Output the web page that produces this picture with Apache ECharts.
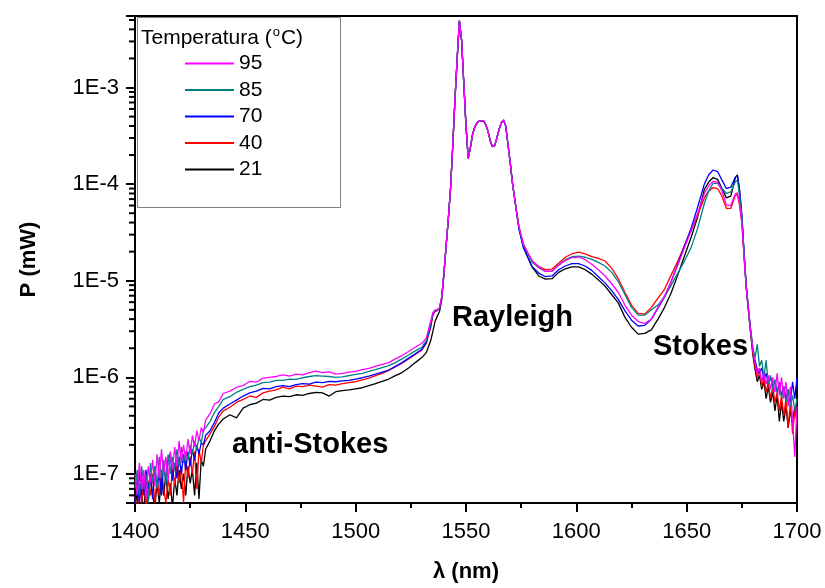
<!DOCTYPE html>
<html><head><meta charset="utf-8">
<script src="https://cdn.jsdelivr.net/npm/echarts@6/dist/echarts.min.js"></script>
<style>html,body{margin:0;padding:0;background:#fff}#c{width:825px;height:588px}</style>
</head><body><div id="c"></div>
<script>
// ---- data (P in mW vs wavelength in nm) ----
const wavelength = [
 1400,1401,1402,1403,1404,1405,1406,1407,1408,1409,1410,1411,1412,1413,1414,1415,1416,1417,1418,1419,1420,1421,1422,1423,1424,1425,1426,1427,1428,1429,1430,1431,1432,
 1434,1436,1438,1440,1443,1446,1449,1452,1455,1458,1461,1464,1467,1470,1473,1476,1479,1482,1485,1488,1491,1494,1497,1500,1503,1506,1509,1512,1515,1518,1521,1524,1527,1530,
 1532,1534,1535,1536,1537,1538,1539,1540,
 1541,1542,1543,1544,1545,1546,1547,1548,1549,1550,1551,1552,1553,1554,1555,1556,1557,1558,1559,1560,1561,1562,1563,1564,1565,1566,1567,1568,1569,1570,1571,1572,1573,
 1574,1576,1578,1580,
 1583,1586,1589,1592,1595,1598,1601,1604,1607,1610,1613,1616,1619,1622,1625,1628,1631,1634,1637,1640,1643,1646,1649,1652,1655,1658,1660,1662,1664,1666,1668,1670,1672,1673,1674,1675,1676,1677,1678,1679,
 1680,1681,1682,1683,1684,1685,1686,1687,1688,1689,1690,1691,1692,1693,1694,1695,1696,1697,1698,1699,1700
];
// Rayleigh peak region 1541-1573 nm, identical for all temperatures
const rayleighPeak = [2.3e-5,4.4e-5,9.0e-5,2.5e-4,7.5e-4,2.0e-3,4.9e-3,3.1e-3,1.1e-3,4.0e-4,1.85e-4,2.4e-4,3.3e-4,3.9e-4,4.3e-4,4.5e-4,4.55e-4,4.5e-4,4.1e-4,3.5e-4,2.8e-4,2.45e-4,2.5e-4,3.0e-4,3.7e-4,4.3e-4,4.6e-4,4.0e-4,2.6e-4,1.7e-4,1.05e-4,7.2e-5,5.0e-5];

const p95 = [
 1.0e-7,6e-8,1.3e-7,7e-8,1.1e-7,5.5e-8,1.2e-7,8e-8,1.4e-7,7.5e-8,1.6e-7,9e-8,1.8e-7,1.0e-7,1.5e-7,8.5e-8,1.7e-7,1.1e-7,1.9e-7,1.2e-7,2.2e-7,1.3e-7,2.0e-7,1.4e-7,2.3e-7,1.6e-7,2.5e-7,1.9e-7,2.8e-7,2.2e-7,3.0e-7,2.7e-7,3.6e-7,
 4.2e-7,5.3e-7,5.6e-7,6.8e-7,7.2e-7,7.9e-7,8.2e-7,9.1e-7,8.9e-7,9.8e-7,1.0e-6,1.02e-6,1.06e-6,1.03e-6,1.08e-6,1.06e-6,1.12e-6,1.16e-6,1.12e-6,1.14e-6,1.08e-6,1.1e-6,1.13e-6,1.15e-6,1.2e-6,1.24e-6,1.3e-6,1.36e-6,1.42e-6,1.55e-6,1.68e-6,1.85e-6,2.05e-6,2.25e-6,
 2.55e-6,3.8e-6,4.7e-6,5.0e-6,5.0e-6,5.3e-6,6.8e-6,1.2e-5,
 ...rayleighPeak,
 3.6e-5,2.4e-5,1.95e-5,1.6e-5,
 1.38e-5,1.25e-5,1.26e-5,1.45e-5,1.62e-5,1.73e-5,1.76e-5,1.65e-5,1.48e-5,1.3e-5,1.12e-5,9.3e-6,7.6e-6,5.6e-6,4.4e-6,3.8e-6,3.6e-6,4.0e-6,5.3e-6,7.0e-6,9.8e-6,1.45e-5,2.2e-5,3.3e-5,5.0e-5,8.0e-5,9.6e-5,1.07e-4,1.05e-4,8.5e-5,6.1e-5,6.0e-5,7.9e-5,8.1e-5,6.2e-5,4.0e-5,1.8e-5,8.5e-6,5.0e-6,3.0e-6,
 1.9e-6,1.4e-6,1.1e-6,1.25e-6,9e-7,1.1e-6,8.5e-7,1.05e-6,7.5e-7,1.0e-6,7e-7,1.1e-6,6.5e-7,1.0e-6,6e-7,9e-7,5e-7,8e-7,3.5e-7,1.5e-7,5e-7
];
const p85 = [
 7e-8,1.1e-7,6e-8,1.2e-7,7e-8,1.0e-7,5e-8,1.3e-7,8e-8,1.2e-7,7e-8,1.5e-7,9e-8,1.4e-7,8e-8,1.6e-7,1.0e-7,1.5e-7,1.1e-7,1.8e-7,1.2e-7,1.9e-7,1.3e-7,1.7e-7,1.4e-7,2.0e-7,1.6e-7,2.2e-7,1.8e-7,2.4e-7,2.1e-7,2.8e-7,3.0e-7,
 3.5e-7,4.3e-7,5.0e-7,5.9e-7,6.3e-7,7.0e-7,7.5e-7,8.0e-7,8.3e-7,8.8e-7,8.9e-7,9.3e-7,9.3e-7,9.6e-7,9.5e-7,9.9e-7,1.02e-6,1.04e-6,1.03e-6,1.02e-6,1.0e-6,1.01e-6,1.04e-6,1.07e-6,1.1e-6,1.15e-6,1.2e-6,1.26e-6,1.32e-6,1.42e-6,1.55e-6,1.7e-6,1.88e-6,2.05e-6,
 2.4e-6,3.6e-6,4.6e-6,4.9e-6,5.0e-6,5.2e-6,6.7e-6,1.2e-5,
 ...rayleighPeak,
 3.6e-5,2.35e-5,1.9e-5,1.55e-5,
 1.36e-5,1.25e-5,1.25e-5,1.45e-5,1.65e-5,1.77e-5,1.8e-5,1.75e-5,1.66e-5,1.55e-5,1.42e-5,1.22e-5,9.8e-6,7.2e-6,5.3e-6,4.4e-6,4.4e-6,5.0e-6,5.6e-6,6.8e-6,9.0e-6,1.2e-5,1.6e-5,2.2e-5,3.5e-5,6.3e-5,8.5e-5,1.02e-4,1.02e-4,9.0e-5,8.0e-5,8.3e-5,1.05e-4,1.1e-4,7.5e-5,4.5e-5,1.9e-5,8.8e-6,5.0e-6,3.0e-6,
 2.0e-6,1.6e-6,2.2e-6,1.3e-6,1.5e-6,1.0e-6,1.5e-6,8.5e-7,1.05e-6,7.5e-7,9.5e-7,7e-7,9e-7,6e-7,8e-7,5.5e-7,7.5e-7,5e-7,6.5e-7,4.5e-7,6e-7
];
const p70 = [
 5e-8,9e-8,5e-8,1.0e-7,6e-8,1.1e-7,7e-8,9e-8,5.5e-8,1.2e-7,7e-8,1.0e-7,6e-8,1.3e-7,8e-8,1.4e-7,1.6e-7,8.5e-8,1.3e-7,9e-8,1.5e-7,1.0e-7,1.6e-7,1.1e-7,1.7e-7,1.2e-7,1.8e-7,1.4e-7,2.0e-7,1.6e-7,2.1e-7,2.0e-7,2.5e-7,
 2.8e-7,3.4e-7,4.3e-7,4.8e-7,5.3e-7,5.8e-7,6.4e-7,6.9e-7,7.2e-7,7.7e-7,7.6e-7,8.0e-7,8.2e-7,8.0e-7,8.4e-7,8.6e-7,8.5e-7,8.9e-7,8.8e-7,9.1e-7,9.0e-7,9.2e-7,9.3e-7,9.6e-7,9.9e-7,1.03e-6,1.08e-6,1.13e-6,1.19e-6,1.3e-6,1.42e-6,1.58e-6,1.75e-6,1.95e-6,
 2.3e-6,3.4e-6,4.5e-6,4.9e-6,4.9e-6,5.2e-6,6.7e-6,1.2e-5,
 ...rayleighPeak,
 3.4e-5,2.2e-5,1.75e-5,1.4e-5,
 1.2e-5,1.1e-5,1.12e-5,1.3e-5,1.42e-5,1.5e-5,1.5e-5,1.42e-5,1.28e-5,1.1e-5,9.5e-6,7.9e-6,6.4e-6,4.9e-6,3.9e-6,3.4e-6,3.45e-6,4.0e-6,5.2e-6,6.8e-6,9.8e-6,1.5e-5,2.3e-5,3.5e-5,5.8e-5,1.0e-4,1.25e-4,1.4e-4,1.35e-4,1.1e-4,9.0e-5,9.3e-5,1.18e-4,1.22e-4,8.5e-5,4.8e-5,2.0e-5,9.0e-6,5.2e-6,3.1e-6,
 2.0e-6,1.5e-6,1.2e-6,1.1e-6,1.25e-6,9.5e-7,1.1e-6,8.5e-7,1.0e-6,8e-7,9e-7,7e-7,8.5e-7,6.5e-7,8e-7,6e-7,7.5e-7,5.5e-7,9e-7,6e-7,1.0e-6
];
const p40 = [
 6e-8,4e-8,8e-8,5e-8,9e-8,4.5e-8,8.5e-8,6e-8,1.0e-7,5e-8,9e-8,6e-8,1.1e-7,7e-8,5e-8,9e-8,6e-8,1.2e-7,7.5e-8,1.3e-7,8e-8,1.2e-7,5e-8,1.4e-7,9e-8,1.5e-7,1.0e-7,1.7e-7,7e-8,1.8e-7,1.3e-7,2.0e-7,2.2e-7,
 2.6e-7,3.1e-7,3.9e-7,4.5e-7,4.9e-7,5.5e-7,5.9e-7,6.4e-7,6.2e-7,6.9e-7,7.2e-7,7.4e-7,7.9e-7,7.6e-7,8.1e-7,8.0e-7,8.3e-7,8.1e-7,7.9e-7,8.4e-7,8.3e-7,8.6e-7,8.8e-7,9.0e-7,9.4e-7,9.8e-7,1.04e-6,1.1e-6,1.18e-6,1.28e-6,1.4e-6,1.55e-6,1.72e-6,1.92e-6,
 2.25e-6,3.3e-6,4.4e-6,4.8e-6,4.9e-6,5.2e-6,6.7e-6,1.2e-5,
 ...rayleighPeak,
 3.6e-5,2.4e-5,1.95e-5,1.6e-5,
 1.4e-5,1.3e-5,1.32e-5,1.52e-5,1.75e-5,1.9e-5,1.98e-5,1.9e-5,1.78e-5,1.7e-5,1.6e-5,1.35e-5,1.05e-5,7.6e-6,5.6e-6,4.6e-6,4.5e-6,5.3e-6,6.6e-6,8.2e-6,1.15e-5,1.6e-5,2.3e-5,3.3e-5,4.8e-5,7.2e-5,8.5e-5,9.2e-5,9.0e-5,7.5e-5,5.6e-5,5.6e-5,7.6e-5,7.8e-5,6.0e-5,4.0e-5,1.8e-5,8.5e-6,5.0e-6,3.0e-6,
 1.8e-6,1.3e-6,1.0e-6,1.2e-6,8e-7,1.0e-6,7e-7,9e-7,6e-7,8e-7,5.5e-7,7e-7,4.5e-7,6.5e-7,4e-7,6e-7,3e-7,5.5e-7,2.6e-7,4.5e-7,3.5e-7
];
const p21 = [
 8e-8,5e-8,1.1e-7,6e-8,4e-8,9e-8,5e-8,1.0e-7,6e-8,4.5e-8,8e-8,5e-8,9e-8,6e-8,1.0e-7,5.5e-8,8e-8,4.5e-8,9e-8,6e-8,1.1e-7,7e-8,1.0e-7,6e-8,1.2e-7,8e-8,1.1e-7,6e-8,1.3e-7,5.5e-8,1.4e-7,1.2e-7,1.8e-7,
 2.2e-7,2.8e-7,3.3e-7,3.7e-7,4.1e-7,3.8e-7,4.8e-7,5.2e-7,5.4e-7,5.9e-7,5.8e-7,6.2e-7,6.4e-7,6.3e-7,6.6e-7,6.5e-7,6.8e-7,7.0e-7,6.9e-7,6.4e-7,7.1e-7,7.3e-7,7.4e-7,7.6e-7,7.8e-7,8.2e-7,8.6e-7,9.1e-7,9.6e-7,1.04e-6,1.12e-6,1.25e-6,1.42e-6,1.6e-6,
 1.8e-6,2.4e-6,3.0e-6,3.8e-6,4.3e-6,4.8e-6,6.3e-6,1.15e-5,
 ...rayleighPeak,
 3.5e-5,2.25e-5,1.75e-5,1.38e-5,
 1.12e-5,1.04e-5,1.05e-5,1.22e-5,1.33e-5,1.39e-5,1.39e-5,1.3e-5,1.17e-5,1.02e-5,8.8e-6,7.2e-6,5.9e-6,4.2e-6,3.3e-6,2.8e-6,2.85e-6,3.1e-6,4.0e-6,5.3e-6,7.5e-6,1.15e-5,1.8e-5,2.8e-5,4.6e-5,8.8e-5,1.05e-4,1.17e-4,1.12e-4,9.0e-5,7.2e-5,7.5e-5,1.15e-4,1.25e-4,8.5e-5,4.6e-5,1.9e-5,8.5e-6,4.8e-6,2.8e-6,
 1.7e-6,1.2e-6,9e-7,1.05e-6,7.5e-7,9e-7,6e-7,8e-7,5.5e-7,7e-7,4.5e-7,6.5e-7,3.5e-7,5.5e-7,3.5e-7,5e-7,3e-7,4.5e-7,3.5e-7,5e-7,4e-7
];
const seriesNames = ['21','40','70','85','95'];
const seriesValues = [p21, p40, p70, p85, p95];
const seriesColors = ['#000000','#FF0000','#0000FF','#008080','#FF00FF'];
const legendOrder = ['95','85','70','40','21'];
const yMantissas = [2,3,4,5,6,7,8,9];
const yExponents = [-8,-7,-6,-5,-4,-3];

seriesValues.forEach((a,i)=>{ if(a.length!==wavelength.length) console.error('length mismatch', seriesNames[i], a.length, wavelength.length); });

const FONT = "'Liberation Sans', Arial, sans-serif";
const Y_MIN = 5e-8, Y_MAX = 5.5e-3;
const minorY = [];
yExponents.forEach(e => yMantissas.forEach(m => { const v = m * Math.pow(10, e); if (v > Y_MIN * 1.01 && v < Y_MAX * 0.99) minorY.push(v); }));

const chart = echarts.init(document.getElementById('c'), null, {renderer: 'canvas'});
const lineSeries = seriesNames.map((n, i) => ({
  type: 'line', name: n, symbol: 'none', showSymbol: false, clip: true,
  data: wavelength.map((x, j) => [x, seriesValues[i][j]]),
  lineStyle: {color: seriesColors[i], width: 1.3},
  itemStyle: {color: seriesColors[i]},
  emphasis: {disabled: true}
}));
lineSeries.push({
  type: 'custom', name: 'minorTicks', silent: true, clip: false, z: 5,
  data: minorY.map(v => [1400, v]),
  renderItem: (params, api) => {
    const p = api.coord([api.value(0), api.value(1)]);
    return {type: 'line', shape: {x1: p[0] - 6, y1: p[1], x2: p[0], y2: p[1]}, style: {stroke: '#000', lineWidth: 2}};
  }
});

chart.setOption({
  animation: false,
  backgroundColor: '#fff',
  textStyle: {fontFamily: FONT},
  grid: {left: 135, right: 28, top: 16, bottom: 83, show: true, borderColor: '#000', borderWidth: 2, backgroundColor: 'transparent'},
  xAxis: {
    type: 'value', min: 1400, max: 1700, interval: 50,
    name: 'λ (nm)', nameLocation: 'middle', nameGap: 58,
    nameTextStyle: {fontFamily: FONT, fontSize: 22, fontWeight: 'bold', color: '#000'},
    axisLine: {show: true, lineStyle: {color: '#000', width: 2}},
    axisTick: {show: true, inside: false, length: 9, lineStyle: {color: '#000', width: 2}},
    minorTick: {show: true, splitNumber: 2, length: 5, lineStyle: {color: '#000', width: 2}},
    axisLabel: {fontFamily: FONT, fontSize: 22, color: '#000', margin: 18, formatter: v => String(v)},
    splitLine: {show: false}, minorSplitLine: {show: false}
  },
  yAxis: {
    type: 'log', logBase: 10, min: Y_MIN, max: Y_MAX,
    name: 'P (mW)', nameLocation: 'middle', nameGap: 95, nameRotate: 90,
    nameTextStyle: {fontFamily: FONT, fontSize: 22, fontWeight: 'bold', color: '#000'},
    axisLine: {show: true, lineStyle: {color: '#000', width: 2}},
    axisTick: {show: true, inside: false, length: 9, lineStyle: {color: '#000', width: 2}},
    axisLabel: {
      fontFamily: FONT, fontSize: 22, color: '#000', margin: 16,
      formatter: v => { const e = Math.log10(v); const r = Math.round(e); return Math.abs(e - r) < 1e-6 ? '1E' + r : ''; }
    },
    splitLine: {show: false}
  },
  legend: {
    data: legendOrder, orient: 'vertical', left: 185, top: 53, padding: 0,
    icon: 'rect', itemWidth: 49, itemHeight: 2, itemGap: 5.5, selectedMode: false,
    textStyle: {fontFamily: FONT, fontSize: 21, lineHeight: 21, color: '#000'}
  },
  graphic: [
    {type: 'rect', z: 0, shape: {x: 137.5, y: 17.5, width: 203, height: 190}, style: {fill: '#fff', stroke: '#808080', lineWidth: 1}},
    {type: 'text', z: 10, x: 141, y: 38, style: {
      text: '{a|Temperatura (}{s|o}{a|C)}', verticalAlign: 'middle', align: 'left',
      rich: {a: {fontFamily: FONT, fontSize: 21, lineHeight: 24, fill: '#000'},
             s: {fontFamily: FONT, fontSize: 13, lineHeight: 14, verticalAlign: 'top', fill: '#000', padding: [0, 1, 0, 1]}}}},
    {type: 'text', z: 10, x: 452, y: 318, style: {text: 'Rayleigh', font: 'bold 29px ' + FONT, fill: '#000', verticalAlign: 'middle', align: 'left'}},
    {type: 'text', z: 10, x: 653, y: 347, style: {text: 'Stokes', font: 'bold 29px ' + FONT, fill: '#000', verticalAlign: 'middle', align: 'left'}},
    {type: 'text', z: 10, x: 232, y: 445, style: {text: 'anti-Stokes', font: 'bold 29px ' + FONT, fill: '#000', verticalAlign: 'middle', align: 'left'}}
  ],
  series: lineSeries
});
</script></body></html>
